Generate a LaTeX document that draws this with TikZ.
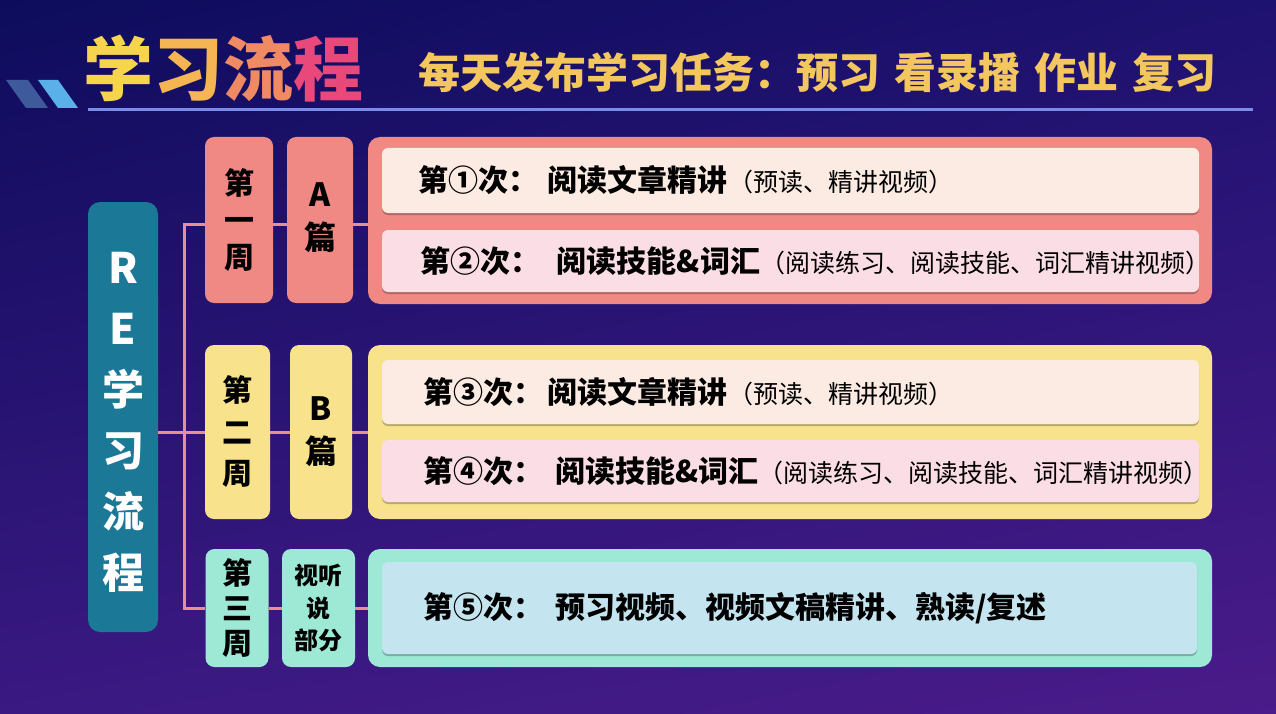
\documentclass[tikz,border=0pt]{standalone}
\usepackage{fontspec}
\setmainfont{Noto Sans CJK SC}
\usetikzlibrary{shadows,shadings}
\definecolor{bgA}{HTML}{0D0C5C}
\definecolor{bgB}{HTML}{1E1270}
\definecolor{bgC}{HTML}{3A1982}
\definecolor{bgD}{HTML}{4A1B8A}
\definecolor{salmon}{HTML}{F08884}
\definecolor{yel}{HTML}{F8E38C}
\definecolor{mint}{HTML}{9EE9D6}
\definecolor{teal}{HTML}{1B7896}
\definecolor{cream}{HTML}{FCEBE2}
\definecolor{pinkrow}{HTML}{FBDDE6}
\definecolor{bluerow}{HTML}{C4E5F0}
\definecolor{conn}{HTML}{E8908A}
\definecolor{tline}{HTML}{7B8BE8}
\definecolor{gold}{HTML}{F4C65E}
\definecolor{tA}{HTML}{F6D54C}
\definecolor{tB}{HTML}{F5B552}
\definecolor{tC}{HTML}{F08A62}
\definecolor{tD}{HTML}{E9487A}
\definecolor{slashA}{HTML}{3E5A9A}
\definecolor{slashB}{HTML}{5AB0E8}
\newcommand{\bb}{\fontsize{30}{30}\selectfont\bfseries}
\newcommand{\sm}{\fontsize{25}{25}\selectfont\mdseries}
\begin{document}
\begin{tikzpicture}[x=1pt,y=-1pt,
  box/.style={rounded corners=9pt,draw=none,inner sep=0pt},
  rowbox/.style={rounded corners=6pt,draw=none,inner sep=0pt,
    drop shadow={shadow xshift=0pt,shadow yshift=-2pt,fill=black,opacity=.25}},
  wk/.style={box,font=\fontsize{30}{37}\selectfont\bfseries,align=center,text=black},
  rowtext/.style={anchor=west,inner sep=0pt,text=black},
  connline/.style={draw=conn,line width=3pt}]
\useasboundingbox (0,0) rectangle (1276,714);
\shade[upper left=bgA,upper right=bgB,lower left=bgC,lower right=bgD] (0,0) rectangle (1276,714);
% header slashes
\fill[slashA] (6,80) -- (28,80) -- (48,108) -- (26,108) -- cycle;
\fill[slashB] (38,80) -- (58,80) -- (78,108) -- (58,108) -- cycle;
% title
\node[inner sep=0pt,font=\fontsize{70}{70}\selectfont\bfseries] (title) at (223,69)
  {\textcolor{tA}{学}\textcolor{tB}{习}\textcolor{tC}{流}\textcolor{tD}{程}};
\node[anchor=west,inner sep=0pt,text=gold,font=\fontsize{42}{42}\selectfont\bfseries] (sub) at (418,72)
  {每天发布学习任务：预习\hspace{14pt}看录播\hspace{14pt}作业\hspace{14pt}复习};
\draw[tline,line width=3pt] (88,110) -- (1253,110);
% left node
\node[box,rounded corners=12pt,fill=teal,minimum width=70pt,minimum height=430pt] (re) at (123,417) {};
\node[text=white,font=\fontsize{42}{61}\selectfont\bfseries,align=center,inner sep=0pt] (retxt)
  at ([yshift=-5pt]re.center) {R\\E\\学\\习\\流\\程};
% week 1
\node[box,fill=salmon,minimum width=68pt,minimum height=166pt] (w1) at (239,220) {};
\node[wk,font=\fontsize{30}{37}\selectfont\bfseries] at (w1.center) {第\\一\\周};
\node[box,fill=salmon,minimum width=66pt,minimum height=166pt] (a1) at (320,220) {};
\node[wk,font=\fontsize{32}{43}\selectfont\bfseries] at ([yshift=2pt]a1.center) {A\\篇};
\node[box,rounded corners=12pt,fill=salmon,minimum width=844pt,minimum height=167pt] (c1) at (790,220.5) {};
\node[rowbox,fill=cream,minimum width=817pt,minimum height=65pt] (r1) at (790.5,180.5) {};
\node[rowtext] (t1) at ([xshift=36pt]r1.west) {\bb 第①次：\hspace{10pt}阅读文章精讲\sm（预读、精讲视频）};
\node[rowbox,fill=pinkrow,minimum width=817pt,minimum height=62pt] (r2) at (790.5,261) {};
\node[rowtext] (t2) at ([xshift=38pt]r2.west) {\bb 第②次：\hspace{17pt}阅读技能\&词汇\sm（阅读练习、阅读技能、词汇精讲视频）};
% week 2
\node[box,fill=yel,minimum width=65pt,minimum height=174pt] (w2) at (237.5,432) {};
\node[wk,font=\fontsize{30}{41.5}\selectfont\bfseries] at (w2.center) {第\\二\\周};
\node[box,fill=yel,minimum width=62pt,minimum height=174pt] (a2) at (321,432) {};
\node[wk,font=\fontsize{32}{43}\selectfont\bfseries] at (a2.center) {B\\篇};
\node[box,rounded corners=12pt,fill=yel,minimum width=844pt,minimum height=174pt] (c2) at (790,432) {};
\node[rowbox,fill=cream,minimum width=817pt,minimum height=64pt] (r3) at (790.5,392) {};
\node[rowtext] (t3) at ([xshift=41pt]r3.west) {\bb 第③次：\hspace{5pt}阅读文章精讲\sm（预读、精讲视频）};
\node[rowbox,fill=pinkrow,minimum width=817pt,minimum height=62pt] (r4) at (790.5,471) {};
\node[rowtext] (t4) at ([xshift=41pt]r4.west) {\bb 第④次：\hspace{12pt}阅读技能\&词汇\sm（阅读练习、阅读技能、词汇精讲视频）};
% week 3
\node[box,fill=mint,minimum width=63pt,minimum height=118pt] (w3) at (237,608) {};
\node[wk,font=\fontsize{30}{35}\selectfont\bfseries] at (w3.center) {第\\三\\周};
\node[box,fill=mint,minimum width=73pt,minimum height=118pt] (a3) at (318.5,608) {};
\node[wk,font=\fontsize{24}{32.5}\selectfont\bfseries] at (a3.center) {视听\\说\\部分};
\node[box,rounded corners=12pt,fill=mint,minimum width=844pt,minimum height=118pt] (c3) at (790,608) {};
\node[rowbox,fill=bluerow,minimum width=815pt,minimum height=92pt] (r5) at (789.5,608) {};
\node[rowtext] (t5) at ([xshift=41pt]r5.west) {\bb 第⑤次：\hspace{12pt}预习视频、视频文稿精讲、熟读/复述};
% connectors
\coordinate (sp) at (184,0);
\draw[connline] ([yshift=-4pt]w1.west) -- ([yshift=-4pt]w1.west -| sp) -- (w3.west -| sp) -- (w3.west);
\draw[connline] (re.east |- w2.west) -- (w2.west);
\draw[connline] ([yshift=-4pt]w1.east) -- ([yshift=-4pt]a1.west);
\draw[connline] ([yshift=-4pt]a1.east) -- ([yshift=-4pt]a1.east -| c1.west);
\draw[connline] (w2.east) -- (a2.west);
\draw[connline] (a2.east) -- (c2.west);
\draw[connline] (w3.east) -- (a3.west);
\draw[connline] (a3.east) -- (c3.west);
\end{tikzpicture}
\end{document}
